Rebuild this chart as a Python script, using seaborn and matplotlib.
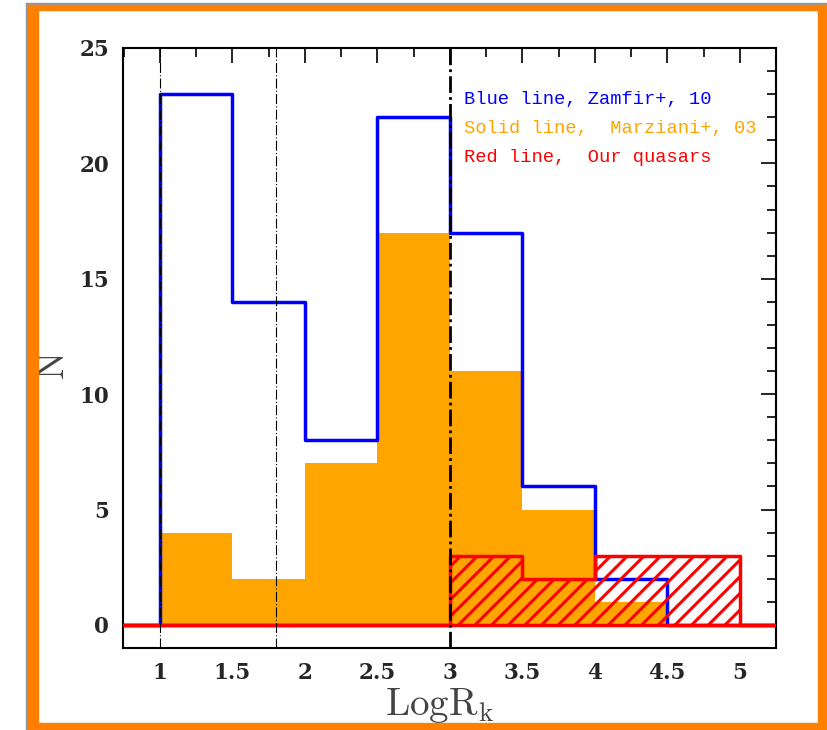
import matplotlib
matplotlib.use("Agg")
import matplotlib.pyplot as plt
import seaborn as sns
from matplotlib.patches import Rectangle
from matplotlib.ticker import MultipleLocator

# histogram bins (empty bins on both ends so the outlines drop to zero)
bin_edges = [0.5, 1.0, 1.5, 2.0, 2.5, 3.0, 3.5, 4.0, 4.5, 5.0, 5.5]
bin_centers = [0.75, 1.25, 1.75, 2.25, 2.75, 3.25, 3.75, 4.25, 4.75, 5.25]
zamfir_counts = [0, 23, 14, 8, 22, 17, 6, 2, 0, 0]
marziani_counts = [0, 4, 2, 7, 17, 11, 5, 1, 0, 0]
our_counts = [0, 0, 0, 0, 0, 3, 2, 3, 3, 0]

thin_cuts = [1.0, 1.8]
thick_cut = 3.0

legend_lines = ["Blue line, Zamfir+, 10",
                "Solid line,  Marziani+, 03",
                "Red line,  Our quasars"]
legend_colors = ["blue", "orange", "red"]

xticks = [1, 1.5, 2, 2.5, 3, 3.5, 4, 4.5, 5]
yticks = [0, 5, 10, 15, 20, 25]

sns.set_style("white")
plt.rcParams["hatch.linewidth"] = 2.2
plt.rcParams["hatch.color"] = "red"
plt.rcParams["mathtext.fontset"] = "cm"

fig = plt.figure(figsize=(8.28, 7.30), dpi=100)
ax = fig.add_axes([123 / 828, 1 - 648 / 730, 653 / 828, 600 / 730])

# Marziani+03 : filled orange
sns.histplot(x=bin_centers, weights=marziani_counts, bins=bin_edges,
             element="step", fill=True, color="orange", alpha=1,
             linewidth=0, ax=ax, zorder=1)
# Zamfir+10 : blue outline
sns.histplot(x=bin_centers, weights=zamfir_counts, bins=bin_edges,
             element="step", fill=False, color="blue", linewidth=2.5,
             ax=ax, zorder=2)
# our quasars : red hatched
sns.histplot(x=bin_centers, weights=our_counts, bins=bin_edges,
             element="step", fill=True, color="red", facecolor="none",
             hatch="//", linewidth=2.5, ax=ax, zorder=3)

for xc in thin_cuts:
    ax.axvline(xc, color="black", lw=0.8, ls=(0, (9, 2, 1, 2)), zorder=4)
ax.axvline(thick_cut, color="black", lw=2, ls=(0, (6, 1.5, 1, 1.5)), zorder=4)

ax.set_xlim(0.745, 5.25)
ax.set_ylim(-1, 25)
ax.set_xticks(xticks)
ax.set_xticklabels([f"{t:g}" for t in xticks])
ax.set_yticks(yticks)
ax.xaxis.set_minor_locator(MultipleLocator(0.25))
ax.yaxis.set_minor_locator(MultipleLocator(1))
ax.tick_params(which="both", direction="in", top=True, right=True,
               color="black", width=1.2)
ax.tick_params(which="major", length=11, pad=10)
ax.tick_params(which="minor", length=6.5)
for lab in ax.get_xticklabels() + ax.get_yticklabels():
    lab.set_fontfamily("DejaVu Serif")
    lab.set_fontweight("bold")
    lab.set_fontsize(15.5)
for sp in ax.spines.values():
    sp.set_color("black")
    sp.set_linewidth(1.5)

ax.set_xlabel(r"$\mathrm{Log R_k}$", fontsize=28, color="#444444")
ax.set_ylabel(r"$\mathrm{N}$", fontsize=27, color="#444444")
ax.xaxis.set_label_coords(0.485, -0.064)
ax.yaxis.set_label_coords(-0.078, 0.47)

for i, (txt, col) in enumerate(zip(legend_lines, legend_colors)):
    ax.text(3.1, 22.75 - 1.25 * i, txt, color=col, fontsize=13.5,
            family="Liberation Mono", va="center", ha="left")

# orange frame around the picture
fig.patches.append(Rectangle((26 / 828, 0), 2 / 828, 727 / 730,
                             transform=fig.transFigure, color="#8899aa"))
fig.patches.append(Rectangle((26 / 828, 1 - 5 / 730), 802 / 828, 2 / 730,
                             transform=fig.transFigure, color="#8899aa"))
frame = [(28, 0, 10, 725), (28, 720, 800, 5), (818, 0, 10, 725), (28, 0, 800, 7)]
for x0, y0, w, h in frame:
    fig.patches.append(Rectangle((x0 / 828, y0 / 730), w / 828, h / 730,
                                 transform=fig.transFigure, color="#ff8000"))

fig.savefig("out.png", dpi=100)
